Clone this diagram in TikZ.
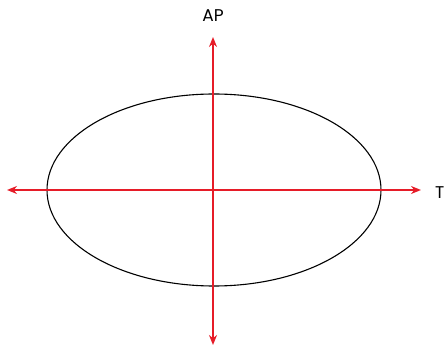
\documentclass[tikz,border=0pt]{standalone}
\usepackage{fontspec}
\setmainfont{Poppins}
\usetikzlibrary{arrows.meta}
\usetikzlibrary{shapes.geometric}
\definecolor{axisred}{RGB}{230,28,40}

\begin{document}
\begin{tikzpicture}[x=1pt, y=-1pt,
    axis/.style={{Stealth[length=10pt,width=8pt]}-{Stealth[length=10pt,width=8pt]}, line width=2.2pt, axisred},
    lbl/.style={font=\fontsize{17}{19}\selectfont, inner sep=0pt}]
    \useasboundingbox (0,0) rectangle (448,347);

    \node[draw, ellipse, line width=1.1pt, inner sep=0pt, minimum width=334pt, minimum height=192pt] (body) at (214, 190) {};

    \coordinate (left) at (7, 190);
    \coordinate (right) at (421, 190);
    \coordinate (top) at (213, 37);
    \coordinate (bottom) at (213, 345);

    \draw[axis] (left) -- (right);
    \draw[axis] (bottom) -- (top);

    \node[lbl] (ap) at (213, 16) {AP};
    \node[lbl, anchor=west] (t) at (435, 193) {T};
\end{tikzpicture}
\end{document}
